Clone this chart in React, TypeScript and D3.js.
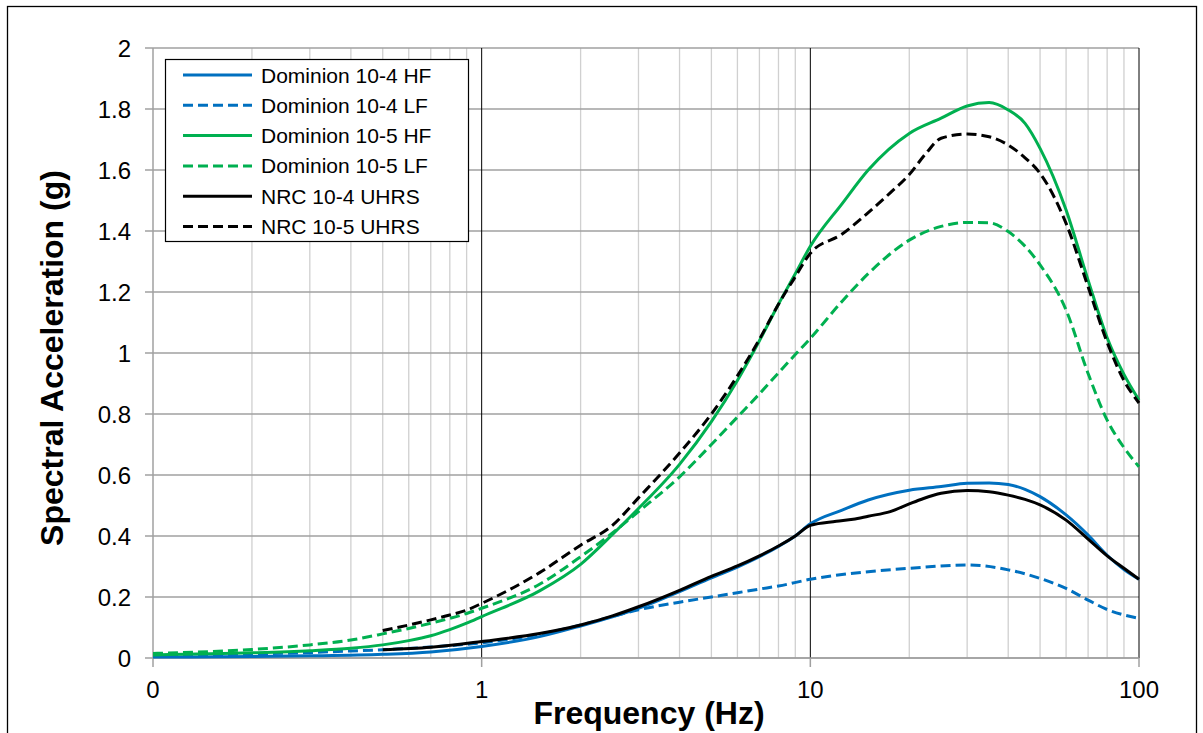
import React from "react";
import * as d3 from "d3";

// ---- Data ----
const domHF4F = [0.1, 0.2, 0.3, 0.5, 0.7, 1, 1.5, 2, 2.5, 3, 4, 5, 6, 7, 8, 9, 10, 12.5, 15, 20, 25, 30, 35, 40, 45, 50, 60, 70, 80, 90, 100];
const domHF4V = [0.003, 0.005, 0.007, 0.012, 0.02, 0.038, 0.07, 0.105, 0.135, 0.163, 0.218, 0.263, 0.298, 0.332, 0.366, 0.4, 0.44, 0.485, 0.518, 0.55, 0.562, 0.573, 0.574, 0.569, 0.553, 0.529, 0.469, 0.403, 0.337, 0.29, 0.258];

const domLF4F = [0.1, 0.2, 0.3, 0.4, 0.5, 0.7, 1, 1.5, 2, 2.5, 3, 4, 5, 6, 7, 8, 10, 15, 20, 30, 40, 50, 60, 70, 80, 90, 100];
const domLF4V = [0.008, 0.013, 0.018, 0.023, 0.027, 0.036, 0.05, 0.078, 0.108, 0.136, 0.158, 0.183, 0.2, 0.214, 0.226, 0.236, 0.258, 0.283, 0.294, 0.305, 0.289, 0.261, 0.228, 0.19, 0.159, 0.141, 0.13];

const domHF5F = [0.1, 0.2, 0.3, 0.4, 0.5, 0.6, 0.7, 0.8, 0.9, 1, 1.5, 2, 2.5, 3, 4, 5, 6, 7, 8, 9, 10, 12.5, 15, 20, 25, 30, 35, 40, 45, 50, 60, 70, 80, 90, 100];
const domHF5V = [0.01, 0.017, 0.024, 0.032, 0.043, 0.057, 0.073, 0.093, 0.114, 0.136, 0.22, 0.307, 0.405, 0.49, 0.635, 0.775, 0.91, 1.04, 1.16, 1.26, 1.35, 1.49, 1.6, 1.72, 1.77, 1.81, 1.821, 1.797, 1.753, 1.671, 1.469, 1.239, 1.05, 0.93, 0.846];

const domLF5F = [0.1, 0.2, 0.3, 0.4, 0.5, 0.6, 0.7, 0.8, 0.9, 1, 1.5, 2, 2.5, 3, 4, 5, 6, 7, 8, 9, 10, 12.5, 15, 20, 25, 30, 35, 40, 50, 60, 70, 80, 90, 100];
const domLF5V = [0.015, 0.028, 0.043, 0.059, 0.079, 0.097, 0.114, 0.13, 0.146, 0.163, 0.242, 0.332, 0.41, 0.48, 0.594, 0.7, 0.79, 0.866, 0.935, 0.995, 1.048, 1.17, 1.26, 1.37, 1.415, 1.428, 1.427, 1.398, 1.289, 1.141, 0.933, 0.78, 0.69, 0.627];

const nrc4F = [0.5, 0.7, 1, 1.5, 2, 2.5, 3, 4, 5, 6, 7, 8, 9, 10, 12, 13.5, 15, 17.5, 20, 22, 25, 30, 35, 40, 45, 50, 60, 70, 80, 90, 100];
const nrc4V = [0.027, 0.035, 0.054, 0.08, 0.108, 0.138, 0.168, 0.222, 0.268, 0.302, 0.335, 0.367, 0.4, 0.435, 0.448, 0.455, 0.465, 0.48, 0.505, 0.522, 0.54, 0.549, 0.545, 0.534, 0.52, 0.502, 0.452, 0.39, 0.335, 0.294, 0.258];

const nrc5F = [0.5, 0.6, 0.7, 0.8, 0.9, 1, 1.5, 2, 2.5, 3, 4, 5, 6, 7, 8, 9, 10, 12.5, 15, 17.5, 20, 22.5, 25, 30, 35, 40, 45, 50, 60, 70, 80, 90, 100];
const nrc5V = [0.09, 0.108, 0.125, 0.141, 0.157, 0.179, 0.28, 0.37, 0.435, 0.525, 0.672, 0.8, 0.925, 1.045, 1.16, 1.25, 1.327, 1.39, 1.46, 1.525, 1.585, 1.655, 1.704, 1.718, 1.709, 1.682, 1.64, 1.589, 1.425, 1.217, 1.035, 0.91, 0.836];

const seriesNames = ["Dominion 10-4 HF", "Dominion 10-4 LF", "Dominion 10-5 HF", "Dominion 10-5 LF", "NRC 10-4 UHRS", "NRC 10-5 UHRS"];
const seriesColors = ["#0070C0", "#0070C0", "#00B050", "#00B050", "#000000", "#000000"];
const seriesDashed = [false, true, false, true, false, true];
const seriesFreqs = [domHF4F, domLF4F, domHF5F, domLF5F, nrc4F, nrc5F];
const seriesVals = [domHF4V, domLF4V, domHF5V, domLF5V, nrc4V, nrc5V];

const xTickValues = [0.1, 1, 10, 100];
const xTickLabels = ["0", "1", "10", "100"];
const yTickValues = [0, 0.2, 0.4, 0.6, 0.8, 1, 1.2, 1.4, 1.6, 1.8, 2];

const xTitle = "Frequency (Hz)";
const yTitle = "Spectral Acceleration (g)";

export default function App() {
  const W = 1203, H = 733;
  const left = 153, right = 1139, top = 48, bottom = 658;
  const x = d3.scaleLog().domain([0.1, 100]).range([left, right]);
  const y = d3.scaleLinear().domain([0, 2]).range([bottom, top]);

  const minor: number[] = [];
  [0.1, 1, 10].forEach((d) => {
    for (let k = 2; k <= 9; k++) minor.push(d * k);
  });

  const line = d3
    .line<[number, number]>()
    .x((d) => x(d[0]))
    .y((d) => y(d[1]))
    .curve(d3.curveMonotoneX);

  const font = "Arial, 'Liberation Sans', Helvetica, sans-serif";
  const legX = 165, legY = 59, legW = 303, legH = 182;
  const rowH = 30.3;

  return (
    <svg width={W} height={H} style={{ position: "absolute", left: 0, top: 0, background: "#fff" }} fontFamily={font}>
      <rect x={0} y={0} width={W} height={H} fill="#fff" />
      <rect x={7.5} y={6.5} width={1189} height={740} fill="none" stroke="#000" strokeWidth={1.3} />

      {/* minor vertical gridlines */}
      {minor.map((m) => (
        <line key={"mv" + m} x1={x(m)} x2={x(m)} y1={top} y2={bottom} stroke="#D0D0D0" strokeWidth={1.3} />
      ))}
      {/* horizontal gridlines */}
      {yTickValues.map((v) => (
        <line key={"h" + v} x1={left} x2={right} y1={y(v)} y2={y(v)} stroke="#A0A0A0" strokeWidth={1.5} />
      ))}
      {/* major vertical gridlines */}
      {xTickValues.slice(1).map((v) => (
        <line key={"mj" + v} x1={x(v)} x2={x(v)} y1={top} y2={bottom} stroke="#000" strokeWidth={1} />
      ))}
      {/* axes */}
      <line x1={left} x2={left} y1={top} y2={bottom} stroke="#A0A0A0" strokeWidth={1.5} />
      <line x1={left} x2={right} y1={bottom} y2={bottom} stroke="#A0A0A0" strokeWidth={1.5} />
      {yTickValues.map((v) => (
        <line key={"yt" + v} x1={left - 8} x2={left} y1={y(v)} y2={y(v)} stroke="#A0A0A0" strokeWidth={1.5} />
      ))}
      {xTickValues.map((v) => (
        <line key={"xt" + v} x1={x(v)} x2={x(v)} y1={bottom} y2={bottom + 9} stroke="#A0A0A0" strokeWidth={1.5} />
      ))}

      {/* tick labels */}
      {yTickValues.map((v) => (
        <text key={"yl" + v} x={131} y={y(v)} dy="0.36em" textAnchor="end" fontSize={24} fill="#000">
          {d3.format("~g")(v)}
        </text>
      ))}
      {xTickValues.map((v, i) => (
        <text key={"xl" + v} x={x(v)} y={698} textAnchor="middle" fontSize={24} fill="#000">
          {xTickLabels[i]}
        </text>
      ))}

      {/* titles */}
      <text x={649} y={724} textAnchor="middle" fontSize={32} fontWeight="bold" fill="#000">
        {xTitle}
      </text>
      <text transform={`translate(63,358) rotate(-90)`} textAnchor="middle" fontSize={32} fontWeight="bold" fill="#000">
        {yTitle}
      </text>

      {/* series */}
      {seriesNames.map((name, i) => {
        const pts = seriesFreqs[i].map((f, j) => [f, seriesVals[i][j]] as [number, number]);
        return (
          <path
            key={name}
            d={line(pts) || ""}
            fill="none"
            stroke={seriesColors[i]}
            strokeWidth={3}
            strokeDasharray={seriesDashed[i] ? "10,5" : undefined}
            strokeLinejoin="round"
          />
        );
      })}

      {/* legend */}
      <rect x={legX + 0.5} y={legY + 0.5} width={legW} height={legH} fill="#fff" stroke="#000" strokeWidth={1.2} />
      {seriesNames.map((name, i) => {
        const cy = legY + 16 + i * rowH;
        return (
          <g key={"lg" + name}>
            <line x1={183} x2={252} y1={cy} y2={cy} stroke={seriesColors[i]} strokeWidth={3} strokeDasharray={seriesDashed[i] ? "10,5" : undefined} />
            <text x={261} y={cy} dy="0.36em" fontSize={21} fill="#000">
              {name}
            </text>
          </g>
        );
      })}
    </svg>
  );
}
